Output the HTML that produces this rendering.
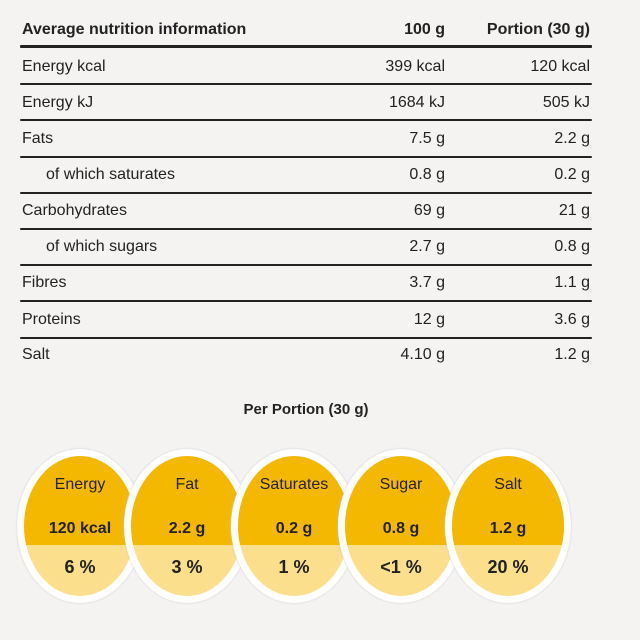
<!DOCTYPE html>
<html><head><style>
body{margin:0;width:640px;height:640px;background:#f4f3f2;font-family:"Liberation Sans Narrow","Liberation Sans",sans-serif;color:#222;position:relative;overflow:hidden}
.t{position:absolute;font-size:16px;white-space:nowrap;line-height:18px}
.r{text-align:right}
.l{position:absolute;left:20px;width:572px;height:2px;background:#222;border-radius:1px}
.o{position:absolute;top:449px;width:126px;height:154px;border-radius:50%;background:#fff;box-shadow:0 0 2px #ccc}
.i{position:absolute;left:7px;top:7px;width:112px;height:140px;border-radius:50%;overflow:hidden;background:#fbdf8c}
.i .top{position:absolute;left:0;top:0;width:112px;height:89px;background:#f4b800}
.i div.x{position:absolute;left:0;width:112px;text-align:center;font-size:16px}
</style></head><body>
<div class="t" style="left:22px;top:21px;font-weight:bold">Average nutrition information</div>
<div class="t r" style="left:345px;width:100px;top:21px;font-weight:bold">100 g</div>
<div class="t r" style="left:470px;width:120px;top:21px;font-weight:bold">Portion (30 g)</div>
<div class="l" style="top:45px;height:3px"></div>

<div class="t" style="left:22px;top:58px">Energy kcal</div><div class="t r" style="left:345px;width:100px;top:58px">399 kcal</div><div class="t r" style="left:470px;width:120px;top:58px">120 kcal</div>
<div class="l" style="top:83px"></div>
<div class="t" style="left:22px;top:94px">Energy kJ</div><div class="t r" style="left:345px;width:100px;top:94px">1684 kJ</div><div class="t r" style="left:470px;width:120px;top:94px">505 kJ</div>
<div class="l" style="top:119px"></div>
<div class="t" style="left:22px;top:130px">Fats</div><div class="t r" style="left:345px;width:100px;top:130px">7.5 g</div><div class="t r" style="left:470px;width:120px;top:130px">2.2 g</div>
<div class="l" style="top:156px"></div>
<div class="t" style="left:46px;top:166px">of which saturates</div><div class="t r" style="left:345px;width:100px;top:166px">0.8 g</div><div class="t r" style="left:470px;width:120px;top:166px">0.2 g</div>
<div class="l" style="top:192px"></div>
<div class="t" style="left:22px;top:202px">Carbohydrates</div><div class="t r" style="left:345px;width:100px;top:202px">69 g</div><div class="t r" style="left:470px;width:120px;top:202px">21 g</div>
<div class="l" style="top:228px"></div>
<div class="t" style="left:46px;top:238px">of which sugars</div><div class="t r" style="left:345px;width:100px;top:238px">2.7 g</div><div class="t r" style="left:470px;width:120px;top:238px">0.8 g</div>
<div class="l" style="top:264px"></div>
<div class="t" style="left:22px;top:274px">Fibres</div><div class="t r" style="left:345px;width:100px;top:274px">3.7 g</div><div class="t r" style="left:470px;width:120px;top:274px">1.1 g</div>
<div class="l" style="top:300px"></div>
<div class="t" style="left:22px;top:311px">Proteins</div><div class="t r" style="left:345px;width:100px;top:311px">12 g</div><div class="t r" style="left:470px;width:120px;top:311px">3.6 g</div>
<div class="l" style="top:337px"></div>
<div class="t" style="left:22px;top:346px">Salt</div><div class="t r" style="left:345px;width:100px;top:346px">4.10 g</div><div class="t r" style="left:470px;width:120px;top:346px">1.2 g</div>

<div class="t" style="left:0;width:612px;text-align:center;top:401px;font-weight:bold;font-size:15px">Per Portion (30 g)</div>

<div class="o" style="left:17px"><div class="i"><div class="top"></div><div class="x" style="top:20px">Energy</div><div class="x" style="top:64px;font-weight:bold">120 kcal</div><div class="x" style="top:101px;font-size:18px;font-weight:bold">6 %</div></div></div>
<div class="o" style="left:124px"><div class="i"><div class="top"></div><div class="x" style="top:20px">Fat</div><div class="x" style="top:64px;font-weight:bold">2.2 g</div><div class="x" style="top:101px;font-size:18px;font-weight:bold">3 %</div></div></div>
<div class="o" style="left:231px"><div class="i"><div class="top"></div><div class="x" style="top:20px">Saturates</div><div class="x" style="top:64px;font-weight:bold">0.2 g</div><div class="x" style="top:101px;font-size:18px;font-weight:bold">1 %</div></div></div>
<div class="o" style="left:338px"><div class="i"><div class="top"></div><div class="x" style="top:20px">Sugar</div><div class="x" style="top:64px;font-weight:bold">0.8 g</div><div class="x" style="top:101px;font-size:18px;font-weight:bold">&lt;1 %</div></div></div>
<div class="o" style="left:445px"><div class="i"><div class="top"></div><div class="x" style="top:20px">Salt</div><div class="x" style="top:64px;font-weight:bold">1.2 g</div><div class="x" style="top:101px;font-size:18px;font-weight:bold">20 %</div></div></div>
</body></html>
